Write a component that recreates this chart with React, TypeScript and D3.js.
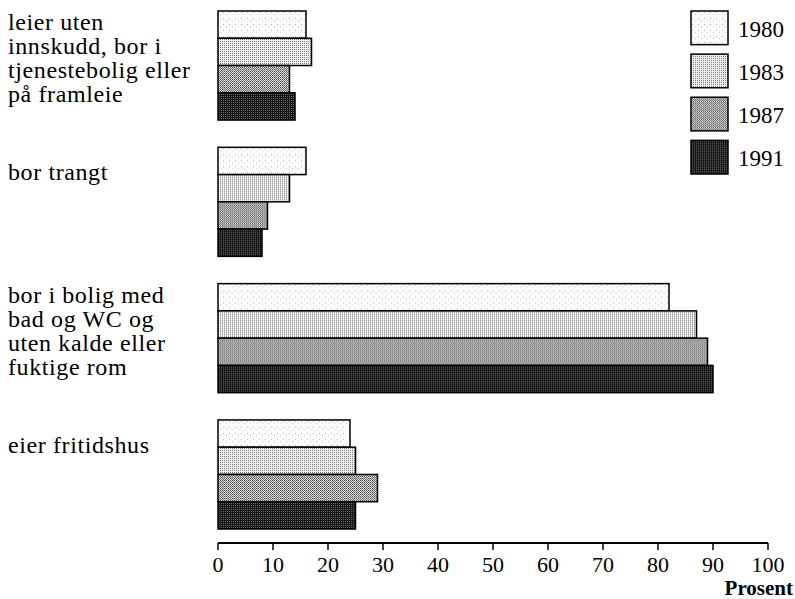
import React from "react";
import * as d3 from "d3";

// data (prosent)
const categories = ["leier", "trangt", "bolig", "fritidshus"];
const categoryLines = [
  ["leier uten", "innskudd, bor i", "tjenestebolig eller", "på framleie"],
  ["bor trangt"],
  ["bor i bolig med", "bad og WC og", "uten kalde eller", "fuktige rom"],
  ["eier fritidshus"],
];
const years = ["1980", "1983", "1987", "1991"];
const values1980 = [16, 16, 82, 24];
const values1983 = [17, 13, 87, 25];
const values1987 = [13, 9, 89, 29];
const values1991 = [14, 8, 90, 25];
const seriesValues = [values1980, values1983, values1987, values1991];
const xTicks = [0, 10, 20, 30, 40, 50, 60, 70, 80, 90, 100];

const width = 795;
const height = 599;
const margin = { top: 11, right: 27, bottom: 69, left: 218 };
const axisY = 543;

const labelFont = "'Liberation Serif', 'Times New Roman', serif";

export default function App() {
  const x = d3
    .scaleLinear()
    .domain([0, 100])
    .range([margin.left, width - margin.right]);

  const y = d3
    .scaleBand()
    .domain(categories)
    .range([margin.top, height - margin.bottom - 1])
    .paddingInner(0.2)
    .paddingOuter(0);

  const yInner = d3
    .scaleBand()
    .domain(years)
    .range([0, y.bandwidth()])
    .padding(0);

  const legendY = d3.scaleBand().domain(years).range([11, 174]).paddingInner(0.22);

  const patternIds = years.map((yr) => `pat${yr}`);

  return (
    <svg
      width={width}
      height={height}
      style={{ position: "absolute", left: 0, top: 0, background: "#fff" }}
      fontFamily={labelFont}
    >
      <defs>
        {/* halftone-like fills */}
        <pattern id="pat1980" width="6" height="6" patternUnits="userSpaceOnUse">
          <rect width="6" height="6" fill="#fbfbfb" />
          <rect x="1" y="1" width="1" height="1" fill="#b8b8b8" />
          <rect x="4" y="3" width="1" height="1" fill="#d0d0d0" />
        </pattern>
        <pattern id="pat1983" width="2" height="2" patternUnits="userSpaceOnUse">
          <rect width="2" height="2" fill="#f0f0f0" />
          <rect x="0" y="0" width="1" height="1" fill="#777" />
        </pattern>
        <pattern id="pat1987" width="2" height="2" patternUnits="userSpaceOnUse">
          <rect width="2" height="2" fill="#d8d8d8" />
          <rect x="0" y="0" width="1" height="1" fill="#555" />
          <rect x="1" y="1" width="1" height="1" fill="#777" />
        </pattern>
        <pattern id="pat1991" width="2" height="2" patternUnits="userSpaceOnUse">
          <rect width="2" height="2" fill="#141414" />
          <rect x="1" y="1" width="1" height="1" fill="#6a6a6a" />
        </pattern>
      </defs>

      {/* bars */}
      {categories.map((c, ci) => (
        <g key={c} transform={`translate(0, ${y(c)})`}>
          {years.map((yr, yi) => (
            <rect
              key={yr}
              x={x(0)}
              y={yInner(yr)}
              width={x(seriesValues[yi][ci]) - x(0)}
              height={yInner.bandwidth()}
              fill={`url(#${patternIds[yi]})`}
              stroke="#000"
              strokeWidth={1.5}
            />
          ))}
        </g>
      ))}

      {/* category labels */}
      {categories.map((c, ci) => {
        const lines = categoryLines[ci];
        const first = (y(c) as number) + (lines.length > 1 ? 19 : 33);
        return (
          <text key={c} x={8} y={first} fontSize={24} letterSpacing={0.6} fill="#000">
            {lines.map((ln, li) => (
              <tspan key={li} x={8} y={first + li * 24}>
                {ln}
              </tspan>
            ))}
          </text>
        );
      })}

      {/* x axis */}
      <line x1={x(0)} x2={x(100)} y1={axisY} y2={axisY} stroke="#000" strokeWidth={1.8} />
      {xTicks.map((t) => (
        <g key={t} transform={`translate(${x(t)}, ${axisY})`}>
          <line y1={0} y2={7} stroke="#000" strokeWidth={1.5} />
          <text y={28.5} textAnchor="middle" fontSize={22} fill="#000">
            {t}
          </text>
        </g>
      ))}
      <text x={793} y={595} textAnchor="end" fontSize={21} fontWeight="bold" fill="#000">
        Prosent
      </text>

      {/* legend */}
      {years.map((yr, yi) => (
        <g key={yr} transform={`translate(691, ${legendY(yr)})`}>
          <rect
            width={37}
            height={legendY.bandwidth()}
            fill={`url(#${patternIds[yi]})`}
            stroke="#000"
            strokeWidth={1.5}
          />
          <text x={47} y={legendY.bandwidth() / 2 + 9} fontSize={23} fill="#000">
            {yr}
          </text>
        </g>
      ))}
    </svg>
  );
}
